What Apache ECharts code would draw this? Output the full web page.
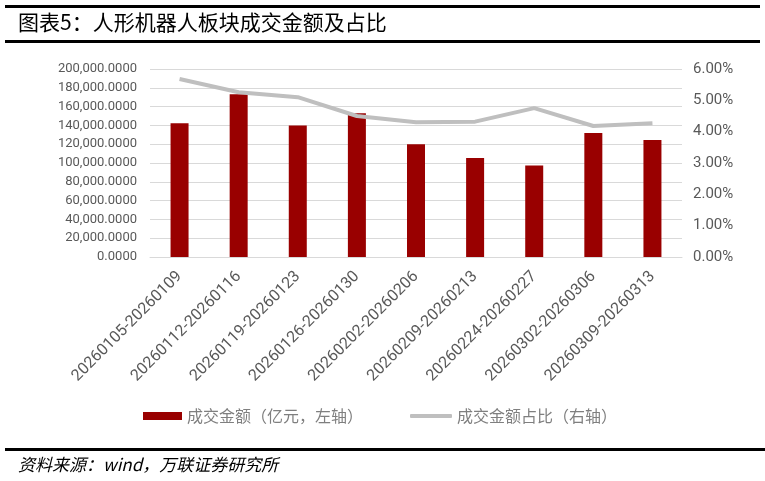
<!DOCTYPE html>
<html>
<head>
<meta charset="utf-8">
<script src="https://cdn.jsdelivr.net/npm/echarts@6/dist/echarts.min.js"></script>
<style>
html,body{margin:0;padding:0;background:#fff;}
#chart{width:765px;height:481px;}
</style>
</head>
<body>
<div id="chart"></div>
<script>
const categories = ['20260105-20260109','20260112-20260116','20260119-20260123','20260126-20260130','20260202-20260206','20260209-20260213','20260224-20260227','20260302-20260306','20260309-20260313'];
const amountValues = [142300, 173100, 139800, 152900, 120000, 105200, 97300, 132000, 124600];
const ratioValues = [5.68, 5.26, 5.10, 4.50, 4.30, 4.32, 4.75, 4.18, 4.27];
const seriesNames = ['成交金额（亿元，左轴）', '成交金额占比（右轴）'];
const titleText = '图表5：人形机器人板块成交金额及占比';
const sourceText = '资料来源：wind，万联证券研究所';

const labelFont = 'Roboto, "Noto Sans CJK SC", sans-serif';
const cjkFont = '"Noto Sans CJK SC", sans-serif';

function fmtLeft(v){
  const s = Math.round(v).toString().replace(/\B(?=(\d{3})+(?!\d))/g, ',');
  return s + '.0000';
}

const chart = echarts.init(document.getElementById('chart'));
chart.setOption({
  animation: false,
  backgroundColor: '#fff',
  grid: {left: 150, right: 83, top: 69, bottom: 224, containLabel: false},
  legend: [
    {data: [{name: seriesNames[0], icon: 'rect'}], left: 143, top: 408, padding: 0, itemWidth: 39, itemHeight: 8, itemGap: 5,
     textStyle: {color: '#7F7F7F', fontSize: 16, fontFamily: cjkFont}},
    {data: [{name: seriesNames[1], icon: 'roundRect'}], left: 410, top: 408, padding: 0, itemWidth: 42, itemHeight: 4, itemGap: 3,
     itemStyle: {color: '#BFBFBF', borderRadius: 2},
     textStyle: {color: '#7F7F7F', fontSize: 16, fontFamily: cjkFont}}
  ],
  xAxis: {
    type: 'category', data: categories,
    axisLine: {show: true, lineStyle: {color: '#D9D9D9', width: 1}},
    axisTick: {show: false},
    axisLabel: {rotate: 45, color: '#595959', fontSize: 16, fontFamily: labelFont, margin: 17, interval: 0}
  },
  yAxis: [
    {type: 'value', min: 0, max: 200000, interval: 20000,
     axisLine: {show: false}, axisTick: {show: false},
     splitLine: {lineStyle: {color: '#D9D9D9', width: 1}},
     axisLabel: {formatter: fmtLeft, color: '#595959', fontSize: 13, fontFamily: labelFont, margin: 13}},
    {type: 'value', min: 0, max: 6, interval: 1, position: 'right',
     axisLine: {show: false}, axisTick: {show: false}, splitLine: {show: false},
     axisLabel: {formatter: v => v.toFixed(2) + '%', color: '#595959', fontSize: 15, fontFamily: labelFont, margin: 11}}
  ],
  series: [
    {name: seriesNames[0], type: 'bar', data: amountValues, yAxisIndex: 0, barWidth: 18,
     itemStyle: {color: '#990000'}},
    {name: seriesNames[1], type: 'line', data: ratioValues, yAxisIndex: 1, showSymbol: false, symbol: 'none',
     lineStyle: {color: '#BFBFBF', width: 4}, itemStyle: {color: '#BFBFBF'}}
  ],
  graphic: [
    {type: 'rect', shape: {x: 5, y: 5, width: 755, height: 3}, style: {fill: '#000'}},
    {type: 'rect', shape: {x: 5, y: 40, width: 755, height: 3}, style: {fill: '#000'}},
    {type: 'rect', shape: {x: 5, y: 448, width: 760, height: 3}, style: {fill: '#000'}},
    {type: 'text', left: 18, top: 12, style: {text: titleText, fill: '#000', font: '21px ' + cjkFont}},
    {type: 'text', left: 18, top: 456, style: {text: sourceText, fill: '#000', font: 'italic 17px ' + cjkFont}}
  ]
});
</script>
</body>
</html>
